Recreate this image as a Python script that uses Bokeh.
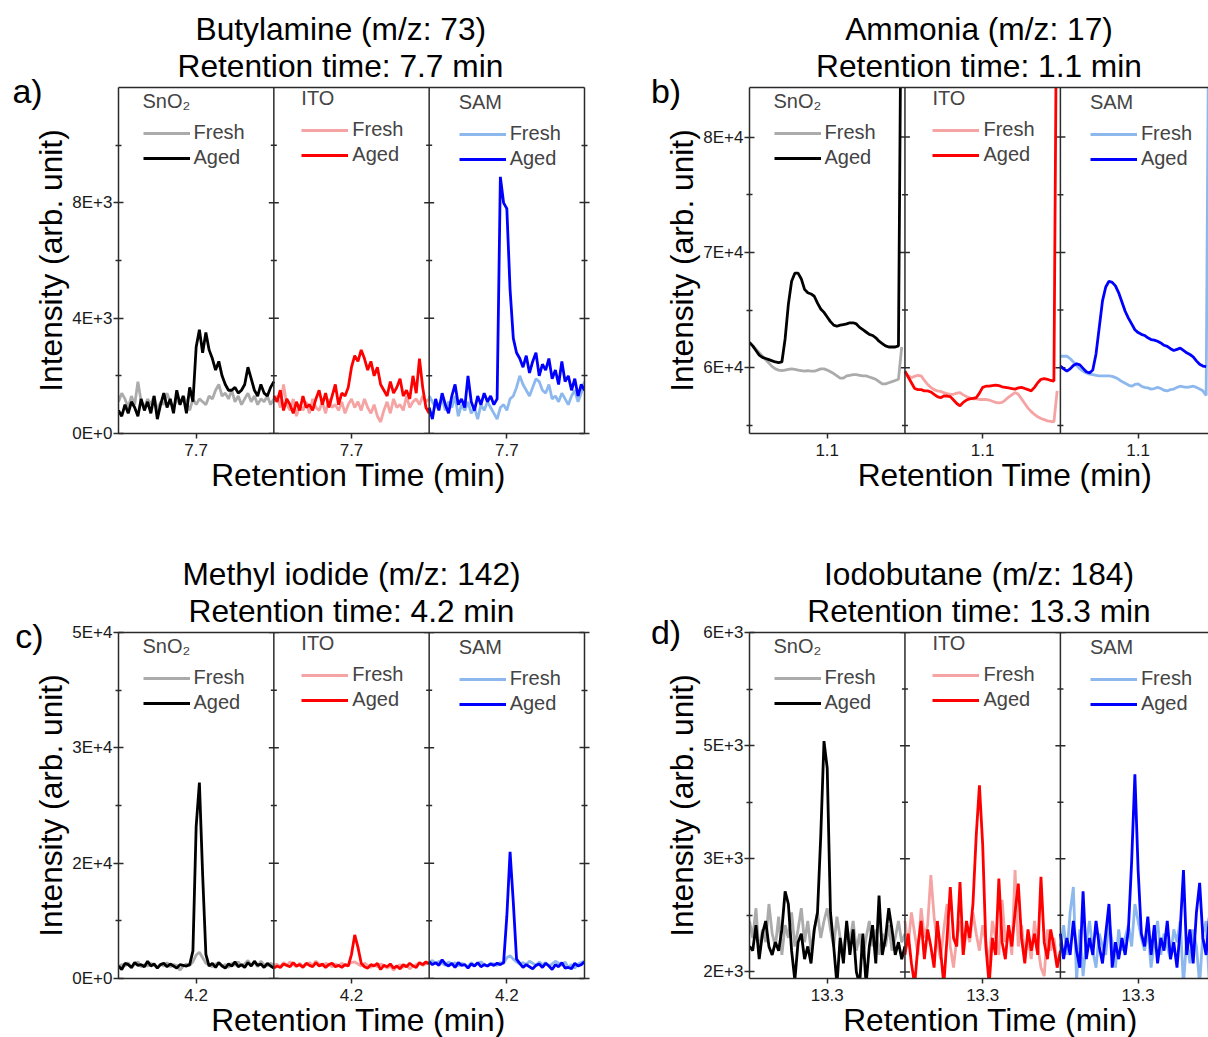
import numpy as np
from bokeh.plotting import figure
from bokeh.models import (Range1d, FixedTicker, CustomJSTickFormatter, LinearAxis,
                          Span, Label, Legend, LegendItem, Title)
from bokeh.layouts import row, column
from bokeh.embed import file_html
from bokeh.resources import INLINE

nan = float("nan")

# ---------------- data ----------------
SURFACES = ["SnO₂", "ITO", "SAM"]
SERIES = ["Fresh", "Aged"]
FRESH_COLORS = ["#ABABAB", "#F5A3A3", "#8DB8EE"]
AGED_COLORS = ["#000000", "#FF0000", "#0000FF"]
X_LABEL = "Retention Time (min)"
Y_LABEL = "Intensity (arb. unit)"

# a) Butylamine, RT 7.7 min
A_RT = 7.7
A_SNO2_FRESH = [1100,1400,1200,900,1300,1000,1800,1100,900,1200,
                1000,1300,800,1100,1000,1400,1100,900,1200,1000,
                1300,1100,800,1200,1000,1200,1100,1000,1300,1200,
                1500,1700,1300,1400,1200,1500,1100,1300,1000,1200,
                1400,1100,1300,1000,1200,1100,1300,1000,1200]
A_SNO2_AGED = [800,600,1000,700,1100,900,600,1200,800,1100,
               700,1300,500,1000,1400,900,1200,700,1500,1000,
               1300,700,1600,1100,3000,3600,2800,3500,2900,2600,
               2200,2500,2000,1700,1500,1500,1600,1400,1500,1700,
               2300,1900,1500,1300,1700,1400,1300,1600,1800]
A_ITO_FRESH = [1100,1300,900,1700,1000,800,1200,600,1000,800,
               1100,700,1200,900,800,1100,700,1200,900,1000,
               800,1100,700,1000,1200,900,1100,800,1200,900,
               700,1000,600,400,800,1100,700,1200,900,1000,
               800,1300,900,1100,1200,1000,1300,1100,1200]
A_ITO_AGED = [1300,1100,1500,800,1200,1000,700,1100,800,1300,
              900,1000,800,1200,1500,1000,1400,900,1300,1700,
              1000,1400,1300,1600,2300,2700,2500,2900,2600,2200,
              2500,2000,2300,1700,1500,1300,1800,1400,1600,1900,
              1300,1500,1200,2000,1400,2600,1600,900,700]
A_SAM_FRESH = [1300,1100,900,1000,1200,800,1100,900,1300,600,
               1000,800,1100,700,900,500,1000,800,1100,900,
               700,500,900,1000,800,1200,1300,1600,2000,1700,
               1500,1300,1600,1900,1800,1500,1400,1700,1200,1300,
               1100,1400,1200,1000,1300,1500,1100,1400,1800]
A_SAM_AGED = [900,500,1200,800,1400,1000,700,1300,1700,1000,
              1200,900,2000,1100,800,1300,1000,1400,1100,1300,
              1000,1200,8900,8000,7800,5000,3300,2800,2600,2300,
              2700,2100,2500,2800,2000,2400,2200,2600,1900,2200,
              1700,2500,1800,2000,1500,1900,1300,1700,1500]

# b) Ammonia, RT 1.1 min
B_RT = 1.1
B_SNO2_FRESH = [62200,61900,61600,61300,61000,60700,60400,60100,59900,59800,
                59750,59800,59850,59900,59850,59800,59750,59700,59750,59700,
                59700,59800,59900,59900,59800,59650,59500,59300,59100,59100,
                59300,59350,59400,59400,59350,59300,59300,59200,59100,59000,
                58800,58600,58600,58700,58800,58900,59000,61800,nan]
B_SNO2_AGED = [62200,61900,61500,61100,60900,60800,60700,60600,60500,60450,
               60500,62500,65500,67500,68200,68200,67700,66800,66500,66400,
               66200,65600,65100,64800,64400,64000,63700,63600,63700,63750,
               63800,63900,63900,63800,63500,63300,63100,62900,62800,62600,
               62300,62100,61900,61800,61800,61800,61900,100000,nan]
B_ITO_FRESH = [59600,59300,59150,59250,59350,59300,58900,58550,58300,58100,
               58000,57950,57850,57750,57700,57700,57800,57850,57650,57500,
               57400,57300,57300,57250,57250,57250,57200,57100,57000,56950,
               57000,57200,57450,57650,57850,57700,57300,56900,56500,56200,
               55950,55750,55600,55500,55400,55350,55300,58000,nan]
B_ITO_AGED = [59700,59200,58700,58200,58100,58100,58000,58000,57900,57700,
              57500,57400,57550,57550,57500,57200,56900,56700,57000,57200,
              57300,57350,57400,57800,58300,58400,58400,58450,58500,58450,
              58350,58300,58250,58200,58150,58250,58300,58200,58100,58000,
              58300,58700,59000,59050,59000,58900,58850,100000,nan]
B_SAM_FRESH = [61000,61000,61000,60800,60500,60200,59900,59700,59550,59450,
               59400,59350,59300,59300,59300,59300,59250,59150,59000,58800,
               58650,58500,58400,58550,58600,58400,58300,58250,58150,58200,
               58300,58200,58050,58000,58100,58150,58300,58400,58350,58300,
               58350,58400,58300,58150,58000,57600,100000,nan,nan]
B_SAM_AGED = [60150,59900,59700,59900,60200,60350,60250,59950,59650,59550,
              59800,61200,63500,65800,67000,67500,67400,67100,66500,65700,
              64900,64300,63800,63300,63050,62900,62800,62600,62450,62400,
              62300,62150,61950,61850,61650,61500,61600,61700,61500,61300,
              61150,60950,60600,60300,60150,60100,nan,nan,nan]

# c) Methyl iodide, RT 4.2 min
C_RT = 4.2
C_SNO2_FRESH = [1600,2000,1800,2300,1500,2100,2400,1700,2000,1800,
                2200,1900,1600,2100,1800,2300,1700,2000,1900,1200,
                1800,2100,1900,2400,3400,3800,3000,2200,2000,1700,
                2100,2300,1800,2000,1600,2200,1900,2400,1800,2100,
                2600,1900,2300,1700,2500,2000,1800,2200,1900]
C_SNO2_AGED = [1800,1300,2200,2000,1600,2300,1900,2000,1700,2500,
               1800,2100,1500,2000,2200,1700,2100,1800,1500,2000,
               1900,1800,2000,4000,22000,28300,15000,3500,1800,2200,
               1600,2300,1800,1500,2100,1800,2400,1700,2000,1600,
               2300,1800,2500,1900,2100,1600,2200,1800,1500]
C_ITO_FRESH = [1900,2100,1700,2300,1900,2400,2000,1700,2200,1800,
               2000,2300,1900,2500,2100,1800,2200,2000,1700,2100,
               1800,2200,1900,2000,2300,2400,2100,1800,2200,1900,
               1600,2000,1700,2100,1900,1500,1800,1200,1700,2000,
               1600,1900,1400,1800,2000,2200,1900,2100,2300]
C_ITO_AGED = [1500,1800,1600,2100,1900,1700,2300,1800,2000,1600,
              2200,1900,1700,2300,1800,2100,1600,2000,2200,1700,
              1900,1600,2000,1800,3500,6300,4500,2200,1700,1500,
              2000,1800,2200,1300,1900,1700,2100,1500,1800,1400,
              2000,1700,2200,1800,1600,2300,2000,2400,2100]
C_SAM_FRESH = [2300,2600,2100,2500,2200,1900,2400,2000,2300,1800,
               2200,2000,1700,2300,1900,2100,2400,2000,1800,2200,
               2100,1900,2300,2200,3000,3300,2800,2400,2100,2300,
               2000,2500,2200,1900,2400,2000,2300,1800,2100,2500,
               2200,1900,2400,1600,2000,1500,2100,2300,2500]
C_SAM_AGED = [2400,2000,2300,1900,2700,2100,1800,2200,1600,2300,
              1900,2000,1500,2100,1800,2300,1700,2000,1800,2100,
              1900,2200,2000,2300,9000,18300,11000,2800,2200,1600,
              2000,1700,1400,1900,2100,1600,2200,1800,1300,2000,
              1700,2300,1500,1600,1400,2200,1800,2000,2400]

# d) Iodobutane, RT 13.3 min
D_RT = 13.3
D_SNO2_FRESH = [2600,2400,2750,2200,2500,2350,2800,2450,2300,2650,
                2200,2550,2400,2700,2300,2500,2750,2350,2600,2250,
                2500,2700,2400,2600,2750,2500,2300,2650,2400,2200,
                2550,2350,2600,2250,2450,2150,2400,2600,2300,2500,
                2200,2450,2300,2550,2250,2400,2600,2350,2450]
D_SNO2_AGED = [2300,2250,2550,2150,2450,2600,2300,2200,2350,2250,
               2500,2950,2800,2250,1900,2350,2450,2150,2300,2100,
               2500,2700,3600,4720,4400,2700,2300,1850,2400,2100,
               2600,2200,2500,2000,1850,2450,1850,2300,2550,2100,
               2900,2200,2400,2750,2500,2200,2350,2150,2300]
D_ITO_FRESH = [2600,2300,2700,2450,2200,2750,2400,2550,3140,2650,
               2350,2150,2500,2800,2300,2050,2400,2600,2200,2500,
               2350,2700,2450,2250,2550,2350,2100,2600,2400,2200,
               2850,2350,2500,2200,3200,2300,2550,2200,2400,2150,
               2600,2300,2050,1950,2500,2250,2400,2100,2200]
D_ITO_AGED = [2200,2450,2100,1850,2300,2600,2150,2500,2300,2050,
              2600,2250,1850,2400,3000,2400,2300,3060,2200,2600,
              2400,2800,3600,4200,3500,2300,1850,2400,2200,3100,
              2350,2150,2550,2300,2700,3040,2400,2100,2500,2250,
              2450,2200,3120,2350,2150,2500,2300,2050,2250]
D_SAM_FRESH = [2300,2550,2200,2700,3000,1900,2500,1950,2350,2600,
               2250,2050,2450,2300,2200,2600,2350,2050,2500,2250,
               2400,2550,2300,2800,2600,2400,2250,2500,2050,2350,
               2600,2200,2450,2300,2150,2500,2350,2600,1850,2400,
               2100,2500,2300,1850,2450,2600,1850,2400,2350]
D_SAM_AGED = [2450,2150,2400,2200,2600,2250,2050,2950,2150,2400,
              2200,2600,2300,2100,2450,2800,2050,2350,2150,2400,
              2200,2500,3300,4330,3200,2450,2300,2650,2200,2550,
              2100,2400,2250,2600,2150,2350,2050,2500,3200,2200,
              2500,2100,2700,3050,2400,2200,2650,2300,2450]

# y axes (tick values as in the original axes)
A_YRANGE = (0, 12000)
A_YTICKS = [0, 4000, 8000]
A_YMINOR = [2000, 6000, 10000]
B_YRANGE = (54300, 84300)
B_YTICKS = [60000, 70000, 80000]
B_YMINOR = [55000, 65000, 75000]
C_YRANGE = (0, 50000)
C_YTICKS = [0, 50000 / 3, 100000 / 3, 50000]
C_YMINOR = [25000 / 3, 25000, 125000 / 3]
D_YRANGE = (1922, 6000)
D_YTICKS = [2000, 10000 / 3, 14000 / 3, 6000]
D_YMINOR = [8000 / 3, 4000, 16000 / 3]

HALF_WINDOW = 0.1  # minutes shown on each side of the retention time

# ---------------- styling ----------------
FONT = "Liberation Sans"
AX = "#2b2b2b"
FRAME_H = 346
BIG = "31.7px"


def make_panel(letter, title1, title2, rt, yrange, yticks, yminor, fresh, aged,
               frame_w, sub_w, bl, br, bt, bb, full, title_align, letter_xy, xlabel_x):
    x_end = frame_w / sub_w
    p = figure(frame_width=frame_w, frame_height=FRAME_H,
               x_range=Range1d(0, x_end), y_range=Range1d(*yrange),
               output_backend="svg", toolbar_location=None, tools="",
               min_border_left=bl, min_border_right=br,
               min_border_top=bt, min_border_bottom=bb,
               outline_line_color=None, background_fill_color="white",
               border_fill_color="white")
    p.xgrid.visible = False
    p.ygrid.visible = False

    # bottom axis: one tick per sub-panel at the retention time
    xa = p.xaxis[0]
    xa.ticker = FixedTicker(ticks=[0.5, 1.5, 2.5], minor_ticks=[])
    xa.formatter = CustomJSTickFormatter(args=dict(lab=f"{rt}"), code="return lab;")
    xa.major_tick_in = 0
    xa.major_tick_out = 5
    xa.minor_tick_in = 0
    xa.minor_tick_out = 0
    xa.major_label_standoff = 5
    xa.major_label_text_font = FONT
    xa.major_label_text_font_size = "17px"
    xa.major_label_text_color = "#1a1a1a"
    xa.axis_line_color = AX
    xa.axis_line_width = 1.5
    xa.major_tick_line_color = AX
    xa.major_tick_line_width = 1.5

    # left axis
    ya = p.yaxis[0]
    ya.ticker = FixedTicker(ticks=yticks, minor_ticks=yminor)
    ya.formatter = CustomJSTickFormatter(code="return tick.toExponential(0).toUpperCase();")
    ya.major_tick_in = 5
    ya.major_tick_out = 5
    ya.minor_tick_in = 3
    ya.minor_tick_out = 3
    ya.major_label_standoff = 1
    ya.major_label_text_font = FONT
    ya.major_label_text_font_size = "17px"
    ya.major_label_text_color = "#1a1a1a"
    ya.axis_line_color = AX
    ya.axis_line_width = 1.5
    ya.major_tick_line_color = AX
    ya.major_tick_line_width = 1.5
    ya.minor_tick_line_color = AX
    ya.minor_tick_line_width = 1.5
    ya.axis_label = Y_LABEL
    ya.axis_label_text_font = FONT
    ya.axis_label_text_font_size = BIG
    ya.axis_label_text_font_style = "normal"
    ya.axis_label_text_color = "black"
    ya.axis_label_standoff = 0

    # top border (plain line; one invisible tick gives a little room below the titles)
    top = LinearAxis(ticker=FixedTicker(ticks=[0.5], minor_ticks=[]),
                     formatter=CustomJSTickFormatter(code="return '';"),
                     axis_line_color=AX, axis_line_width=1.5,
                     major_tick_in=0, major_tick_out=4, major_tick_line_alpha=0,
                     minor_tick_in=0, minor_tick_out=0,
                     major_label_text_font_size="0px",
                     major_label_standoff=0, axis_label_standoff=0)
    p.add_layout(top, "above")

    # two-line title
    al1, off1, al2, off2 = title_align
    t2 = Title(text=title2, align=al2, offset=off2, text_font=FONT,
               text_font_size=BIG, text_font_style="normal", text_color="black",
               text_line_height=1.1, standoff=0)
    p.add_layout(t2, "above")
    p.title.text = title1
    p.title.align = al1
    p.title.offset = off1
    p.title.text_font = FONT
    p.title.text_font_size = BIG
    p.title.text_font_style = "normal"
    p.title.text_color = "black"
    p.title.standoff = -3

    if full:
        right = LinearAxis(ticker=FixedTicker(ticks=yticks, minor_ticks=yminor),
                           formatter=CustomJSTickFormatter(code="return '';"),
                           axis_line_color=AX, axis_line_width=1.5,
                           major_tick_in=5, major_tick_out=5, minor_tick_in=3, minor_tick_out=3,
                           major_tick_line_color=AX, major_tick_line_width=1.5,
                           minor_tick_line_color=AX, minor_tick_line_width=1.5)
        p.add_layout(right, "right")

    # sub-panel dividers with crossing ticks
    for k in (1, 2):
        p.add_layout(Span(location=k, dimension="height", line_color=AX, line_width=1.5))
        p.scatter(x=[k] * len(yticks), y=yticks, marker="dash", size=10,
                  line_color=AX, line_width=1.5)
        p.scatter(x=[k] * len(yminor), y=yminor, marker="dash", size=6,
                  line_color=AX, line_width=1.5)

    leg_dx = [24.5, 28, 30]
    leg_y = [264, 267, 263]
    for k in range(3):
        f = np.array(fresh[k], dtype=float)
        a = np.array(aged[k], dtype=float)
        tf = np.linspace(rt - HALF_WINDOW, rt + HALF_WINDOW, len(f))
        ta = np.linspace(rt - HALF_WINDOW, rt + HALF_WINDOW, len(a))
        xf = k + (tf - (rt - HALF_WINDOW)) / (2 * HALF_WINDOW)
        xa_ = k + (ta - (rt - HALF_WINDOW)) / (2 * HALF_WINDOW)
        rf = p.line(xf, f, line_color=FRESH_COLORS[k], line_width=2.8)
        ra = p.line(xa_, a, line_color=AGED_COLORS[k], line_width=2.8)
        leg = Legend(items=[LegendItem(label=SERIES[0], renderers=[rf]),
                            LegendItem(label=SERIES[1], renderers=[ra])],
                     location=(k * sub_w + leg_dx[k], leg_y[k]),
                     title=SURFACES[k], title_text_font=FONT, title_text_font_size="20px",
                     title_text_font_style="normal", title_standoff=8,
                     label_text_font=FONT, label_text_font_size="20px",
                     glyph_width=47, glyph_height=20, label_standoff=4,
                     spacing=2, padding=0, margin=0,
                     border_line_color=None, background_fill_alpha=0)
        p.add_layout(leg)

    # x-axis title, in the panel below the axis
    p.add_layout(Label(x=xlabel_x, y=20, x_units="screen", y_units="screen",
                       text=X_LABEL, text_font=FONT, text_font_size=BIG,
                       text_align="center", text_baseline="alphabetic", text_color="black"),
                 "below")

    # panel letter, placed in the left side panel (outside the frame)
    p.add_layout(Label(x=letter_xy[0], y=letter_xy[1], x_units="screen", y_units="screen",
                       text=letter, text_font=FONT, text_font_size="34px",
                       text_align="center", text_baseline="middle", text_color="black"),
                 "left")
    return p


pa = make_panel("a)", "Butylamine (m/z: 73)", "Retention time: 7.7 min", A_RT,
                A_YRANGE, A_YTICKS, A_YMINOR,
                [A_SNO2_FRESH, A_ITO_FRESH, A_SAM_FRESH], [A_SNO2_AGED, A_ITO_AGED, A_SAM_AGED],
                466, 466 / 3, 118, 46, 87, 112, True,
                ("left", 77, "left", 59), (27, 343), 240)
pb = make_panel("b)", "Ammonia (m/z: 17)", "Retention time: 1.1 min", B_RT,
                B_YRANGE, B_YTICKS, B_YMINOR,
                [B_SNO2_FRESH, B_ITO_FRESH, B_SAM_FRESH], [B_SNO2_AGED, B_ITO_AGED, B_SAM_AGED],
                459, 155.45, 119, 0, 87, 112, False,
                ("center", 0, "center", 0), (34.5, 343), 255.5)
pc = make_panel("c)", "Methyl iodide (m/z: 142)", "Retention time: 4.2 min", C_RT,
                C_YRANGE, C_YTICKS, C_YMINOR,
                [C_SNO2_FRESH, C_ITO_FRESH, C_SAM_FRESH], [C_SNO2_AGED, C_ITO_AGED, C_SAM_AGED],
                466, 466 / 3, 118, 46, 87, 59, True,
                ("center", 0, "center", 0), (27, 343), 240)
pd_ = make_panel("d)", "Iodobutane (m/z: 184)", "Retention time: 13.3 min", D_RT,
                 D_YRANGE, D_YTICKS, D_YMINOR,
                 [D_SNO2_FRESH, D_ITO_FRESH, D_SAM_FRESH], [D_SNO2_AGED, D_ITO_AGED, D_SAM_AGED],
                 459, 155.45, 119, 0, 87, 59, False,
                 ("center", 0, "center", 0), (34.5, 347), 241)

layout = column(row(pa, pb), row(pc, pd_))
open("out.html", "w").write(file_html(layout, INLINE))
